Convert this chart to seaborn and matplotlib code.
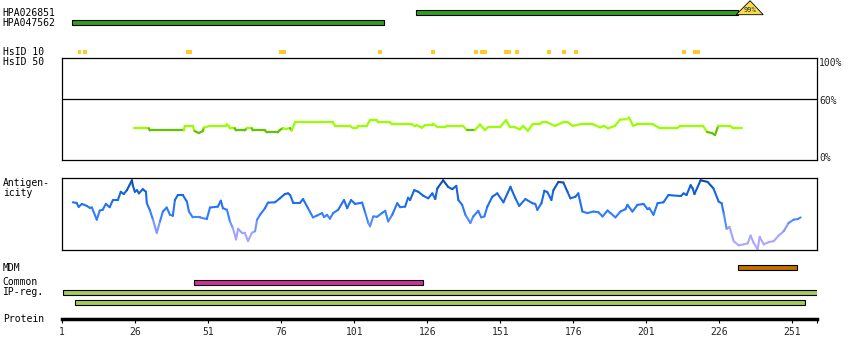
import numpy as np
import matplotlib
matplotlib.use("Agg")
import matplotlib.pyplot as plt
from matplotlib.collections import LineCollection
from matplotlib.colors import ListedColormap, BoundaryNorm, LinearSegmentedColormap, Normalize
import seaborn as sns

# protein axis
protein_len = 259.3
tick_pos = [1, 26, 51, 76, 101, 126, 151, 176, 201, 226, 251]

# antibody (HPA) regions
hpa_names = ["HPA026851", "HPA047562"]
hpa_start = [122.2, 4.5]
hpa_end = [232.4, 111.2]
hpa_score = ["99%", ""]

# HsID 10 hits
hsid10_start = [6.5, 8.2, 43.4, 75.3, 109.2, 127.3, 142.0, 144.1, 152.3, 156.1,
                167.0, 172.2, 176.3, 213.2, 217.0]
hsid10_end = [7.5, 9.6, 45.5, 77.7, 110.5, 128.7, 143.4, 146.5, 154.7, 157.4,
              168.4, 173.5, 177.6, 214.6, 219.4]

# HsID 50 identity trace (%)
hsid50_res = [25.7, 30.8, 31.1, 42.8, 43.1, 45.8, 46.5, 47.9, 49.3, 49.6, 51.7, 57.1,
              57.5, 58.2, 58.5, 60.2, 60.6, 63.6, 64.3, 66.0, 66.4, 70.5, 71.2, 74.9,
              75.6, 76.7, 77.7, 79.1, 79.7, 80.8, 93.8, 94.5, 99.6, 100.6, 102.0, 102.3,
              105.4, 106.4, 108.8, 109.2, 113.3, 114.0, 120.8, 121.8, 122.5, 124.2, 125.3,
              127.7, 128.0, 129.7, 132.1, 132.8, 138.3, 139.6, 142.4, 144.1, 145.8, 146.8,
              150.9, 153.0, 154.4, 156.1, 157.8, 158.8, 160.5, 162.2, 164.6, 165.3, 167.0,
              169.8, 172.5, 174.2, 175.9, 178.3, 182.8, 185.2, 186.5, 187.9, 190.3, 192.0,
              194.4, 195.1, 196.5, 197.8, 203.3, 205.7, 211.5, 212.6, 220.4, 221.8, 223.5,
              224.5, 225.6, 229.7, 230.7, 233.8]
hsid50_pct = [31.1, 31.1, 29.1, 29.1, 33.6, 33.6, 28.4, 26.5, 28.4, 31.7, 33.6, 33.6,
              35.0, 33.3, 31.1, 31.1, 29.1, 29.1, 31.1, 31.1, 29.1, 29.1, 27.2, 27.2,
              29.4, 31.4, 30.4, 31.4, 29.1, 37.0, 37.0, 33.6, 33.6, 31.4, 31.4, 33.6,
              33.6, 39.2, 39.2, 37.0, 37.0, 35.0, 35.0, 33.3, 34.3, 31.7, 34.3,
              34.3, 35.6, 32.1, 32.1, 33.6, 33.6, 29.4, 29.4, 35.0, 29.4, 32.1,
              32.1, 39.2, 32.1, 32.1, 30.1, 33.6, 28.7, 35.6, 35.6, 37.0, 37.0,
              33.6, 37.0, 37.0, 33.6, 35.0, 35.0, 32.1, 33.6, 31.1, 33.6, 39.7,
              40.2, 41.9, 33.6, 35.0, 35.0, 31.1, 31.1, 33.6, 33.6, 27.5, 26.5,
              24.5, 33.6, 33.6, 31.1, 31.1]

# antigenicity trace
antigen_res = [4.8, 6.1, 6.8, 7.9, 9.6, 10.6, 11.3, 13.0, 14.0, 15.0, 16.1, 17.4, 18.5,
               20.2, 21.2, 22.2, 23.3, 25.0, 25.3, 26.0, 26.7, 27.4, 28.7, 29.8, 30.1,
               31.1, 32.2, 33.5, 34.6, 35.6, 36.9, 38.0, 39.0, 39.7, 40.7, 42.4, 43.8,
               44.5, 45.8, 48.2, 50.6, 51.7, 54.4, 55.4, 56.1, 57.5, 58.5, 59.5, 60.6,
               61.3, 62.6, 63.6, 64.7, 66.0, 67.1, 67.8, 68.8, 70.5, 71.5, 73.9, 75.6,
               77.3, 78.4, 79.1, 80.1, 82.5, 83.5, 85.2, 86.9, 88.3, 90.0, 90.7, 91.7,
               92.7, 93.8, 95.5, 97.5, 98.6, 99.9, 101.3, 103.7, 104.7, 105.8, 106.4,
               107.5, 108.8, 110.5, 111.6, 112.6, 114.0, 115.7, 116.7, 118.4, 119.4,
               120.1, 121.5, 122.9, 124.6, 126.3, 127.7, 128.7, 129.4, 131.4, 133.1,
               134.5, 135.9, 136.6, 137.9, 139.0, 140.7, 141.7, 143.4, 144.4, 145.5,
               146.5, 148.2, 149.9, 152.0, 154.4, 156.1, 157.4, 159.5, 161.9, 162.9,
               163.6, 165.0, 166.0, 167.0, 168.4, 169.1, 170.8, 172.5, 173.9, 174.9,
               176.6, 177.6, 179.0, 180.7, 182.8, 184.5, 185.9, 187.6, 188.6, 190.3,
               192.0, 193.7, 194.4, 196.1, 197.8, 199.9, 201.3, 201.9, 203.3, 204.7,
               206.7, 208.4, 212.6, 213.6, 214.6, 216.0, 216.7, 217.3, 219.4, 221.8,
               223.8, 225.6, 226.6, 227.3, 228.3, 229.3, 230.7, 232.4, 234.1, 235.5,
               236.5, 237.5, 238.9, 239.6, 241.0, 242.7, 244.4, 246.1, 247.8, 249.5,
               251.2, 252.6, 253.6]
antigen_val = [66.2, 65.3, 59.7, 63.9, 61.1, 58.3, 59.0, 41.7, 54.6, 55.6, 63.9, 59.3, 69.4,
               69.4, 81.0, 77.8, 83.3, 97.2, 90.3, 81.0, 83.3, 78.8, 84.7, 81.0, 64.9,
               55.6, 41.7, 23.2, 39.3, 53.2, 58.8, 48.6, 47.2, 69.4, 76.4, 76.4, 67.1,
               53.2, 44.9, 44.9, 42.6, 58.8, 60.1, 68.5, 57.9, 55.6, 39.3, 30.1, 13.9,
               28.8, 23.2, 23.2, 11.5, 23.2, 25.4, 41.7, 48.6, 57.9, 65.7, 66.2, 71.8,
               77.8, 78.8, 76.4, 65.7, 65.7, 70.8, 57.9, 44.9, 47.6, 51.0, 45.4, 48.6,
               43.1, 51.0, 55.6, 69.4, 57.9, 69.4, 63.9, 65.7, 52.4, 37.1, 32.4,
               46.3, 45.8, 51.0, 54.2, 39.3, 48.6, 64.9, 59.3, 60.1, 72.6,
               69.4, 83.3, 81.0, 75.4, 71.8, 78.8, 70.8, 85.7, 97.2, 87.9,
               84.7, 89.3, 69.4, 62.5, 48.6, 37.1, 46.3, 54.2, 44.9, 46.3,
               60.1, 74.0, 78.8, 66.2, 87.9, 71.8, 61.1, 70.8, 64.9, 63.9,
               55.6, 64.9, 82.4, 80.6, 69.4, 83.3, 94.9, 94.0, 81.0, 71.8,
               74.0, 78.8, 53.2, 51.0, 53.2, 52.1, 46.3, 54.6, 51.0, 44.9,
               53.2, 56.5, 62.5, 53.2, 62.5, 63.9, 56.5, 57.9, 48.6, 64.9,
               66.2, 76.4, 75.0, 78.8, 76.4, 90.3, 85.7, 77.8, 97.2, 94.9,
               85.7, 67.1, 64.9, 51.0, 28.8, 31.5, 11.5, 5.6, 6.9, 8.3,
               19.4, 9.3, 0.0, 17.6, 6.9, 10.1, 11.5, 19.4, 25.4, 37.1,
               41.7, 42.6, 44.9]

# feature tracks
mdm_start = [232.2]
mdm_end = [252.5]
common_start = [46.3]
common_end = [124.5]
ipreg_start = [1.4, 5.6]
ipreg_end = [259.3, 255.2]

W, H = 850, 360
FONT = ["DejaVu Sans Mono"]

sns.set_theme(style="white")
plt.rcParams["font.family"] = FONT
plt.rcParams["font.size"] = 7

fig = plt.figure(figsize=(W / 100, H / 100), dpi=100)


def px_axes(x0, y0, x1, y1):
    return fig.add_axes([x0 / W, 1 - y1 / H, (x1 - x0) / W, (y1 - y0) / H])


def label(y, text):
    fig.text(2.7 / W, 1 - y / H, text, va="center", ha="left", fontsize=7, color="black")


# bar tracks live on one axes whose y runs in figure rows
tracks = px_axes(62, 0, 816.7, 360)
tracks.set_xlim(1, protein_len)
tracks.set_ylim(360, 0)
tracks.set_axis_off()

hpa_rows = [12.3, 22.3]
for name, s, e, sc, row in zip(hpa_names, hpa_start, hpa_end, hpa_score, hpa_rows):
    tracks.barh(row, e - s, left=s, height=4.7, color="#2e9e1f", edgecolor="black", linewidth=0.8)
    label(row + 1, name)
    if sc:
        tracks.fill([e - 0.7, e + 8.6, e + 4.1], [row + 2.4, row + 2.4, row - 11.6],
                    facecolor="#f5dc4e", edgecolor="black", linewidth=0.6, zorder=3)
        tracks.text(e + 4.1, row - 2.3, sc, ha="center", va="center", fontsize=5, zorder=4)

hs_w = np.array(hsid10_end) - np.array(hsid10_start)
tracks.barh(52.2, hs_w, left=hsid10_start, height=4.3, color="#ffc926", linewidth=0)
label(52.3, "HsID 10")
label(62.3, "HsID 50")

tracks.barh(267.8, np.array(mdm_end) - np.array(mdm_start), left=mdm_start, height=5,
            color="#c07000", edgecolor="black", linewidth=0.8)
tracks.barh(282.3, np.array(common_end) - np.array(common_start), left=common_start, height=4.7,
            color="#cc3399", edgecolor="black", linewidth=0.8)
tracks.barh([292.3, 302.3], np.array(ipreg_end) - np.array(ipreg_start), left=ipreg_start,
            height=4.7, color="#a6ca5b", edgecolor="black", linewidth=0.8)
label(268, "MDM")
label(282, "Common")
label(292, "IP-reg.")
label(319, "Protein")
label(183, "Antigen-")
label(193.3, "icity")

# HsID 50 panel
ax_id = px_axes(61.7, 58.3, 816.7, 160)
ax_id.set_xlim(1, protein_len)
ax_id.set_ylim(0, 100)
ax_id.set_xticks([])
ax_id.set_yticks([])
for sp in ax_id.spines.values():
    sp.set_visible(True)
    sp.set_color("black")
    sp.set_linewidth(0.9)
ax_id.axhline(60, color="black", linewidth=0.9)
pts = np.column_stack([hsid50_res, hsid50_pct])
segs = np.stack([pts[:-1], pts[1:]], axis=1)
mid = (np.array(hsid50_pct[:-1]) + np.array(hsid50_pct[1:])) / 2
id_cmap = ListedColormap(["#62c400", "#99ff00", "#d4f032"])
id_norm = BoundaryNorm([0, 30.5, 40.5, 100], 3)
lc = LineCollection(segs, cmap=id_cmap, norm=id_norm, linewidth=1.6, capstyle="round")
lc.set_array(mid)
ax_id.add_collection(lc)
ax_id.text(1.003, 0.951, "100%", transform=ax_id.transAxes, va="center", ha="left", fontsize=7)
ax_id.text(1.003, 0.583, "60%", transform=ax_id.transAxes, va="center", ha="left", fontsize=7)
ax_id.text(1.003, 0.017, "0%", transform=ax_id.transAxes, va="center", ha="left", fontsize=7)

# antigenicity panel
ax_ag = px_axes(61.7, 178.3, 817.3, 250)
ax_ag.set_xlim(1, protein_len)
ax_ag.set_ylim(-1, 100)
ax_ag.set_xticks([])
ax_ag.set_yticks([])
for sp in ax_ag.spines.values():
    sp.set_visible(True)
    sp.set_color("black")
    sp.set_linewidth(0.9)
pts = np.column_stack([antigen_res, antigen_val])
segs = np.stack([pts[:-1], pts[1:]], axis=1)
mid = (np.array(antigen_val[:-1]) + np.array(antigen_val[1:])) / 2
ag_cmap = LinearSegmentedColormap.from_list(
    "ag", [(0, "#b4abff"), (0.25, "#9ea2ff"), (0.38, "#5a8eff"), (0.5, "#2f7dff"),
           (0.7, "#1a6cec"), (0.85, "#1160d4"), (1.0, "#0a3f8f")])
lc2 = LineCollection(segs, cmap=ag_cmap, norm=Normalize(0, 100), linewidth=1.5, capstyle="round")
lc2.set_array(mid)
ax_ag.add_collection(lc2)

# protein ruler
ax_p = px_axes(62, 300, 816.7, 319)
ax_p.set_xlim(1, protein_len)
ax_p.set_facecolor("none")
for k in ["top", "left", "right"]:
    ax_p.spines[k].set_visible(False)
ax_p.spines["bottom"].set_visible(True)
ax_p.spines["bottom"].set_color("black")
ax_p.spines["bottom"].set_linewidth(2.5)
ax_p.set_yticks([])
ax_p.set_xticks(tick_pos + [protein_len])
ax_p.set_xticklabels([str(t) for t in tick_pos] + [""])
ax_p.tick_params(axis="x", direction="out", length=2.8, width=0.8, color="black",
                 pad=3.2, labelsize=7, bottom=True)

fig.savefig("out.png", dpi=100)
